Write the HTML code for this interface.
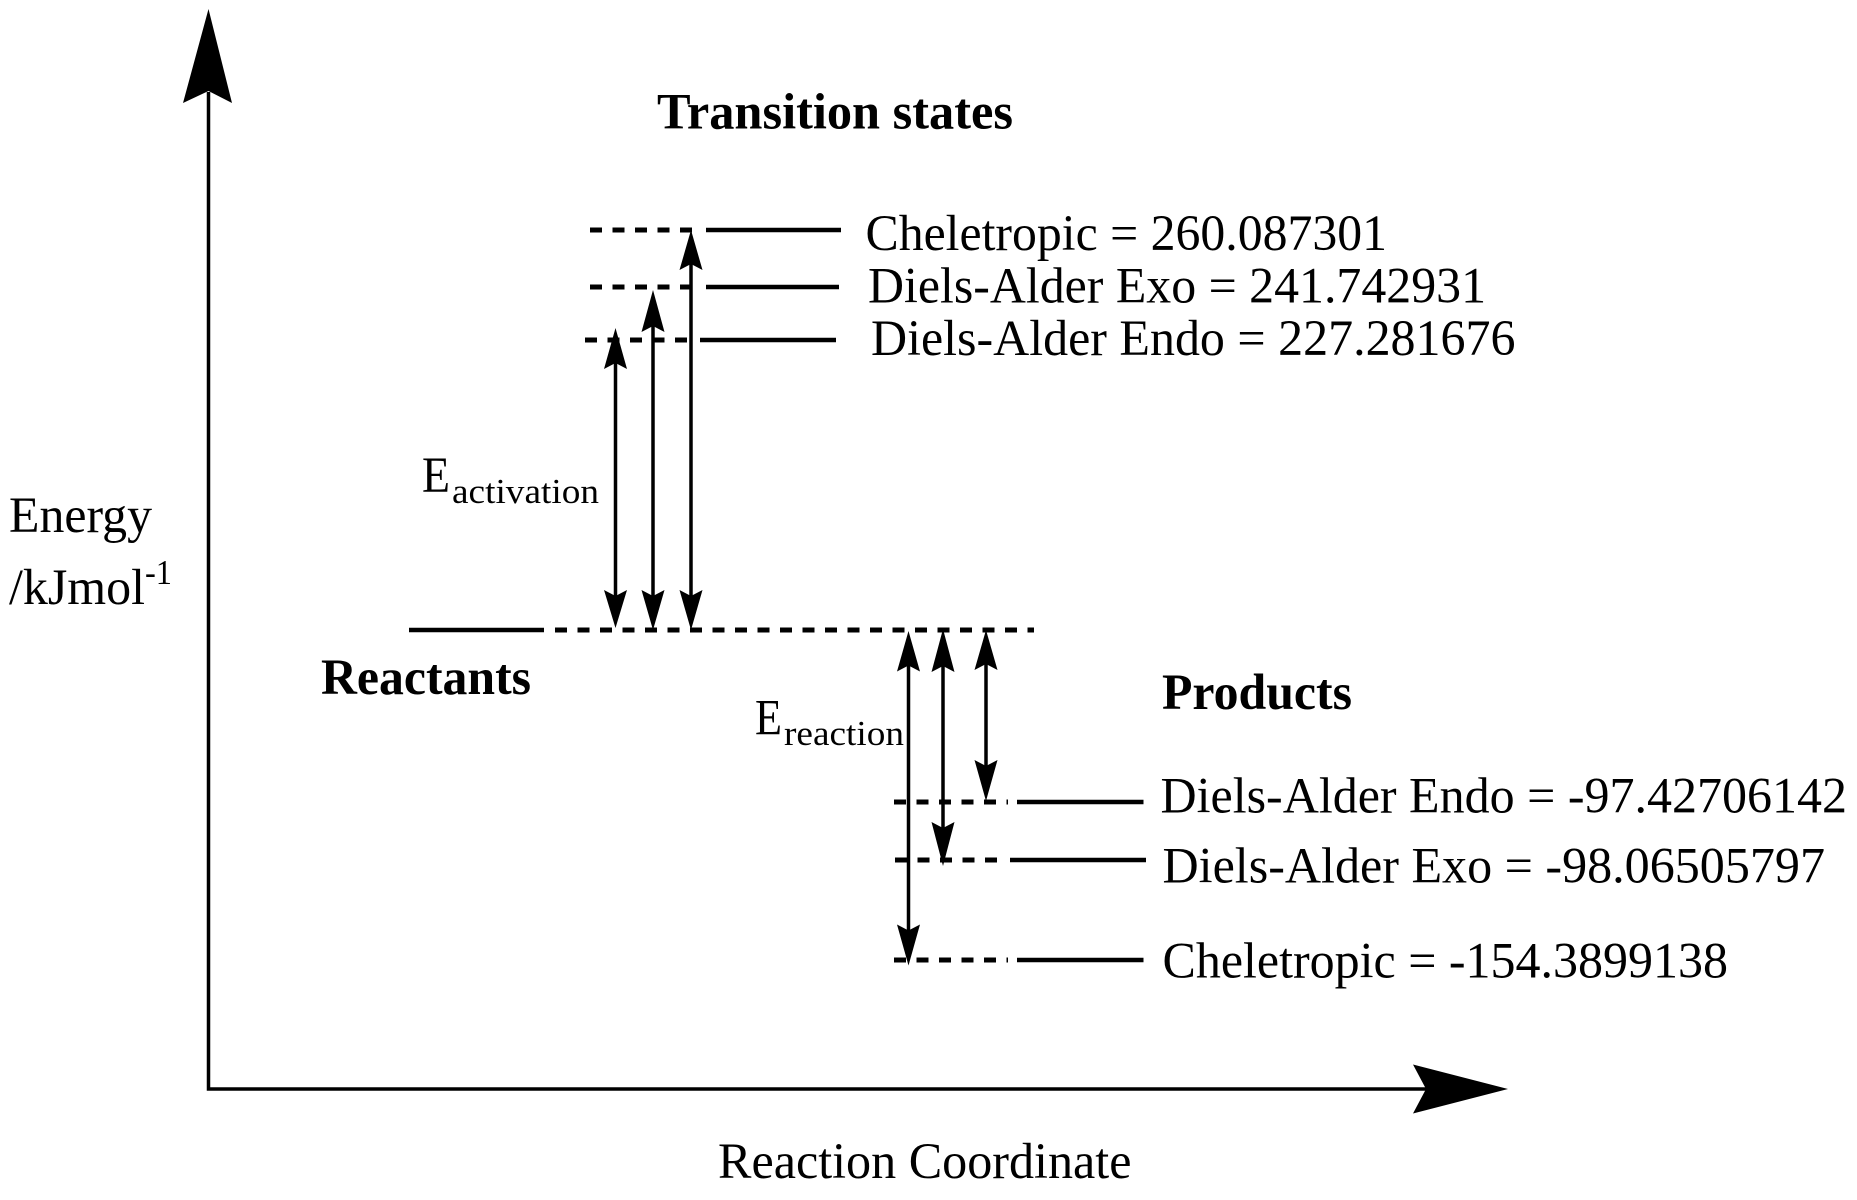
<!DOCTYPE html>
<html>
<head>
<meta charset="utf-8">
<style>
html,body{margin:0;padding:0;background:#fff;width:1857px;height:1200px;overflow:hidden}
svg{display:block}
text{font-family:"Liberation Serif","Times New Roman",serif;fill:#000;font-size:51px}
.b{font-weight:bold}
.s{font-size:35px}
.lv{stroke:#000;stroke-width:4.5;fill:none}
.da{stroke:#000;stroke-width:5;fill:none;stroke-dasharray:12 10.5}
.ax{stroke:#000;stroke-width:3.5;fill:none}
.sh{stroke:#000;stroke-width:3.5;fill:none}
</style>
</head>
<body>
<svg width="1857" height="1200" viewBox="0 0 1857 1200" xmlns="http://www.w3.org/2000/svg">
<rect width="1857" height="1200" fill="#fff"/>

<!-- Axes -->
<path class="ax" d="M208.5 92V1089H1428"/>
<polygon points="208.5,9 232,103 208.5,91 183,103" fill="#000"/>
<polygon points="1508,1089 1413,1064.5 1426,1089 1413,1113.5" fill="#000"/>

<!-- Transition state levels -->
<line class="da" x1="590" y1="230" x2="694" y2="230"/>
<line class="lv" x1="706" y1="230" x2="841" y2="230"/>
<line class="da" x1="590" y1="287" x2="694" y2="287"/>
<line class="lv" x1="706" y1="287" x2="839" y2="287"/>
<line class="da" x1="585" y1="340" x2="690" y2="340"/>
<line class="lv" x1="700" y1="340" x2="836" y2="340"/>

<!-- Reactants -->
<line class="lv" x1="409" y1="630" x2="544" y2="630"/>
<line class="da" x1="555" y1="630" x2="1034" y2="630"/>

<!-- Product levels -->
<line class="da" x1="894" y1="802" x2="1008" y2="802"/>
<line class="lv" x1="1017" y1="802" x2="1143.5" y2="802"/>
<line class="da" x1="895" y1="860" x2="1000" y2="860"/>
<line class="lv" x1="1010" y1="860" x2="1146" y2="860"/>
<line class="da" x1="894" y1="960" x2="1008" y2="960"/>
<line class="lv" x1="1017" y1="960" x2="1143.5" y2="960"/>

<!-- Activation arrows -->
<line class="sh" x1="615.5" y1="360" x2="615.5" y2="600"/>
<polygon points="615.5,328 627,369 615.5,363 604,369" fill="#000"/>
<polygon points="615.5,628 627,590 615.5,596 604,590" fill="#000"/>
<line class="sh" x1="653" y1="322" x2="653" y2="600"/>
<polygon points="653,290 664.5,332 653,326 641.5,332" fill="#000"/>
<polygon points="653,630 664.5,590 653,596 641.5,590" fill="#000"/>
<line class="sh" x1="691" y1="260" x2="691" y2="600"/>
<polygon points="691,230 702.5,270 691,264 679.5,270" fill="#000"/>
<polygon points="691,630 702.5,590 691,596 679.5,590" fill="#000"/>

<!-- Reaction arrows -->
<line class="sh" x1="908.5" y1="662" x2="908.5" y2="935"/>
<polygon points="908.5,631 920,671.5 908.5,665.5 897,671.5" fill="#000"/>
<polygon points="908.5,965.5 920,924.5 908.5,930.5 897,924.5" fill="#000"/>
<line class="sh" x1="943" y1="662" x2="943" y2="832"/>
<polygon points="943,629 954.5,672 943,666 931.5,672" fill="#000"/>
<polygon points="943,866 954.5,822 943,828 931.5,822" fill="#000"/>
<line class="sh" x1="986" y1="660" x2="986" y2="770"/>
<polygon points="986,630 997.5,670 986,664 974.5,670" fill="#000"/>
<polygon points="986,801 997.5,760 986,766 974.5,760" fill="#000"/>

<!-- Labels -->
<text class="b" x="657" y="128.5" textLength="356" lengthAdjust="spacingAndGlyphs">Transition states</text>
<text x="865.5" y="250" textLength="521.5" lengthAdjust="spacingAndGlyphs">Cheletropic = 260.087301</text>
<text x="868" y="302.5" textLength="618" lengthAdjust="spacingAndGlyphs">Diels-Alder Exo = 241.742931</text>
<text x="871" y="355" textLength="644.5" lengthAdjust="spacingAndGlyphs">Diels-Alder Endo = 227.281676</text>

<text x="9" y="532" textLength="143" lengthAdjust="spacingAndGlyphs">Energy</text>
<text x="9" y="604" textLength="136" lengthAdjust="spacingAndGlyphs">/kJmol</text>
<text class="s" x="145" y="584" textLength="27" lengthAdjust="spacingAndGlyphs">-1</text>

<text x="422" y="492" textLength="28" lengthAdjust="spacingAndGlyphs">E</text>
<text class="s" x="452" y="503" textLength="147" lengthAdjust="spacingAndGlyphs">activation</text>

<text x="755" y="734.5" textLength="27" lengthAdjust="spacingAndGlyphs">E</text>
<text class="s" x="784" y="745" textLength="120" lengthAdjust="spacingAndGlyphs">reaction</text>

<text class="b" x="321" y="694" textLength="210" lengthAdjust="spacingAndGlyphs">Reactants</text>
<text class="b" x="1162" y="709" textLength="190" lengthAdjust="spacingAndGlyphs">Products</text>

<text x="1160.5" y="812.5" textLength="686.5" lengthAdjust="spacingAndGlyphs">Diels-Alder Endo = -97.42706142</text>
<text x="1162.5" y="882.5" textLength="662.5" lengthAdjust="spacingAndGlyphs">Diels-Alder Exo = -98.06505797</text>
<text x="1162.5" y="977.5" textLength="565.5" lengthAdjust="spacingAndGlyphs">Cheletropic = -154.3899138</text>

<text x="718" y="1178" textLength="413.5" lengthAdjust="spacingAndGlyphs">Reaction Coordinate</text>
</svg>
</body>
</html>
